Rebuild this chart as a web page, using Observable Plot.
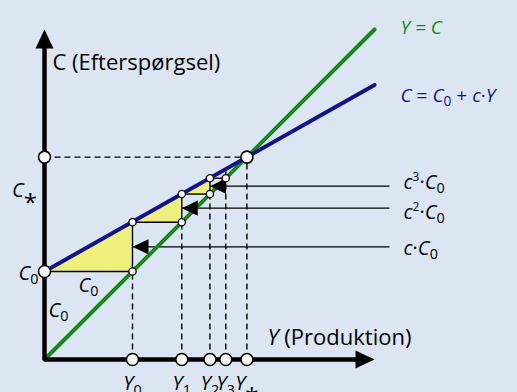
<!DOCTYPE html>
<html><head><meta charset="utf-8">
<script src="https://cdn.jsdelivr.net/npm/d3@7"></script>
<script src="https://cdn.jsdelivr.net/npm/@observablehq/plot@0.6"></script>
<style>html,body{margin:0;padding:0;background:#dce6f2;} #chart svg{display:block}</style>
</head><body><div id="chart"></div>
<script>
// ---- data (units: C0 = 1) ----
const stairY = [0, 1, 1.56, 1.88, 2.06];      // production at each step
const stairC = [1, 1.56, 1.88, 2.06, 2.16];   // consumption on C = C0 + cY at each step
const yMarks = [1, 1.56, 1.88, 2.06, 2.3];
const yMarkLabels = ["~Y~_{0}", "~Y~_{1}", "~Y~_{2}", "~Y~_{3}", "~Y~_{*}"];
const C0 = 1;
const Ystar = 2.3, Cstar = 2.3;
const identityLine = [{Y: 0, C: 0}, {Y: 3.75, C: 3.75}];
const consumptionLine = [{Y: 0, C: 1}, {Y: 3.75, C: 3.12}];
const axisTip = 3.75;
const arrowEnd = 3.92;
const arrowLabels = ["~c~·~C~_{0}", "~c~^{2}·~C~_{0}", "~c~^{3}·~C~_{0}"];
const arrowLabelC = [1.26, 1.67, 2.01];
const arrowLabelY = 4.08;

const green = "#168a16", navy = "#12128e", yellow = "#eff07c";

// derived tables
const triangles = [];
for (let k = 0; k < 3; k++) {
  triangles.push({k, Y: stairY[k], lo: stairC[k], hi: stairC[k]});
  triangles.push({k, Y: stairY[k + 1], lo: stairC[k], hi: stairC[k + 1]});
}
const horiz = d3.range(4).map(k => ({x1: stairY[k], x2: stairY[k + 1], y: stairC[k]}));
const vert = d3.range(4).map(k => ({x: stairY[k + 1], y1: stairC[k], y2: stairC[k + 1]}));
const arrows = d3.range(3).map(k => ({tip: stairY[k + 1], C: (stairC[k] + stairC[k + 1]) / 2, label: arrowLabels[k], lc: arrowLabelC[k]}));
const smallDots = [
  ...d3.range(4).map(k => ({Y: stairY[k + 1], C: stairC[k]})),
  ...d3.range(1, 4).map(k => ({Y: stairY[k], C: stairC[k]}))
];
const bigDots = [{Y: 0, C: C0}, {Y: 0, C: Cstar}, {Y: Ystar, C: Cstar}, ...yMarks.map(v => ({Y: v, C: 0}))];
const ticks = yMarks.map((v, i) => ({Y: v, label: yMarkLabels[i]}));

const head = {draw(ctx, size) { const r = Math.sqrt(size / Math.PI); ctx.moveTo(0, -r); ctx.lineTo(0.95 * r, r); ctx.lineTo(-0.95 * r, r); ctx.closePath(); }};
const FONT = "'Open Sans'";

const svg = Plot.plot({
  width: 517, height: 392, margin: 0,
  x: {domain: [-0.5, 5.375], axis: null},
  y: {domain: [-0.375, 4.0795], axis: null},
  style: {background: "#dce6f2", fontFamily: FONT, overflow: "visible"},
  marks: [
    Plot.areaY(triangles, {x: "Y", y1: "lo", y2: "hi", z: "k", fill: yellow, curve: "linear"}),
    Plot.link(yMarks, {x1: d => d, x2: d => d, y1: 0, y2: d => d, stroke: "black", strokeWidth: 1.4, strokeDasharray: "6,4"}),
    Plot.link([Cstar], {x1: 0, x2: Ystar, y1: d => d, y2: d => d, stroke: "black", strokeWidth: 1.4, strokeDasharray: "6,4"}),
    Plot.link(horiz, {x1: "x1", x2: "x2", y1: "y", y2: "y", stroke: "black", strokeWidth: 1.4}),
    Plot.link(vert, {x1: "x", x2: "x", y1: "y1", y2: "y2", stroke: "black", strokeWidth: 1.4}),
    Plot.link(arrows, {x1: "tip", x2: arrowEnd, y1: "C", y2: "C", stroke: "black", strokeWidth: 1.4}),
    Plot.line(identityLine, {x: "Y", y: "C", stroke: green, strokeWidth: 4}),
    Plot.line(consumptionLine, {x: "Y", y: "C", stroke: navy, strokeWidth: 4}),
    Plot.line([{Y: 0, C: axisTip - 0.15}, {Y: 0, C: 0}, {Y: axisTip - 0.15, C: 0}], {x: "Y", y: "C", stroke: "black", strokeWidth: 4.5, strokeLinejoin: "miter", strokeLinecap: "square"}),
    Plot.dot([axisTip], {x: 0, y: d => d, symbol: head, r: 9.5, fill: "black", stroke: "none", dy: 9.5}),
    Plot.dot([axisTip], {x: d => d, y: 0, symbol: head, r: 9.5, fill: "black", stroke: "none", rotate: 90, dx: -9.5}),
    Plot.dot(arrows, {x: "tip", y: "C", symbol: head, r: 8, fill: "black", stroke: "none", rotate: -90, dx: 8}),
    Plot.dot(smallDots, {x: "Y", y: "C", r: 3.6, fill: "white", stroke: "black", strokeWidth: 1.3}),
    Plot.dot(bigDots, {x: "Y", y: "C", r: 6, fill: "white", stroke: "black", strokeWidth: 1.6}),
    Plot.text(arrows, {x: arrowLabelY, y: "lc", text: "label", textAnchor: "start", fontSize: 20, fill: "black"}),
    Plot.text(ticks, {x: "Y", y: -0.275, text: "label", textAnchor: "middle", fontSize: 20, fill: "black"}),
    Plot.text(["C (Efterspørgsel)"], {x: 0.09, y: 3.375, text: d => d, textAnchor: "start", fontSize: 22, fill: "black"}),
    Plot.text(["~Y~ (Produktion)"], {x: 2.534, y: 0.25, text: d => d, textAnchor: "start", fontSize: 22, fill: "black"}),
    Plot.text(["~Y = C~"], {x: 4.045, y: 3.773, text: d => d, textAnchor: "start", fontSize: 19, fill: green}),
    Plot.text(["~C~ = ~C~_{0} + ~c~·~Y~"], {x: 4.045, y: 3.0, text: d => d, textAnchor: "start", fontSize: 19, fill: navy}),
    Plot.text(["~C~_{*}"], {x: -0.085, y: 1.92, text: d => d, textAnchor: "end", fontSize: 20, fill: "black"}),
    Plot.text(["~C~_{0}"], {x: -0.068, y: 0.977, text: d => d, textAnchor: "end", fontSize: 20, fill: "black"}),
    Plot.text(["~C~_{0}", "~C~_{0}"], {x: [0.386, 0.045], y: [0.84, 0.56], text: d => d, textAnchor: "start", fontSize: 20, fill: "black"})
  ]
});

// rich text: ~ toggles italic, _{..} subscript, ^{..} superscript
function richify(root) {
  root.querySelectorAll("text").forEach(t => {
    const s = t.textContent;
    if (!/[~_^]/.test(s)) return;
    const fs = parseFloat(getComputedStyle(t).fontSize) || 20;
    const runs = [];
    let italic = false, i = 0, buf = "";
    const flush = () => { if (buf) runs.push({text: buf, italic, shift: null}); buf = ""; };
    while (i < s.length) {
      const ch = s[i];
      if (ch === "~") { flush(); italic = !italic; i++; }
      else if ((ch === "_" || ch === "^") && s[i + 1] === "{") {
        flush();
        const j = s.indexOf("}", i);
        runs.push({text: s.slice(i + 2, j), italic: false, shift: ch === "_" ? "sub" : "sup"});
        i = j + 1;
      } else { buf += ch; i++; }
    }
    flush();
    while (t.firstChild) t.removeChild(t.firstChild);
    let cur = 0;
    for (const r of runs) {
      const ts = document.createElementNS("http://www.w3.org/2000/svg", "tspan");
      let target = 0, size = fs;
      if (r.shift === "sub") {
        if (r.text === "*") { target = 0.72 * fs; size = 1.2 * fs; }
        else { target = 0.22 * fs; size = 0.72 * fs; }
      } else if (r.shift === "sup") { target = -0.42 * fs; size = 0.6 * fs; }
      if (target !== cur) ts.setAttribute("dy", (target - cur).toFixed(2));
      cur = target;
      ts.setAttribute("font-size", size);
      ts.setAttribute("font-style", r.italic ? "italic" : "normal");
      ts.textContent = r.text;
      t.appendChild(ts);
    }
  });
}
document.getElementById("chart").appendChild(svg);
richify(svg);
</script></body></html>
